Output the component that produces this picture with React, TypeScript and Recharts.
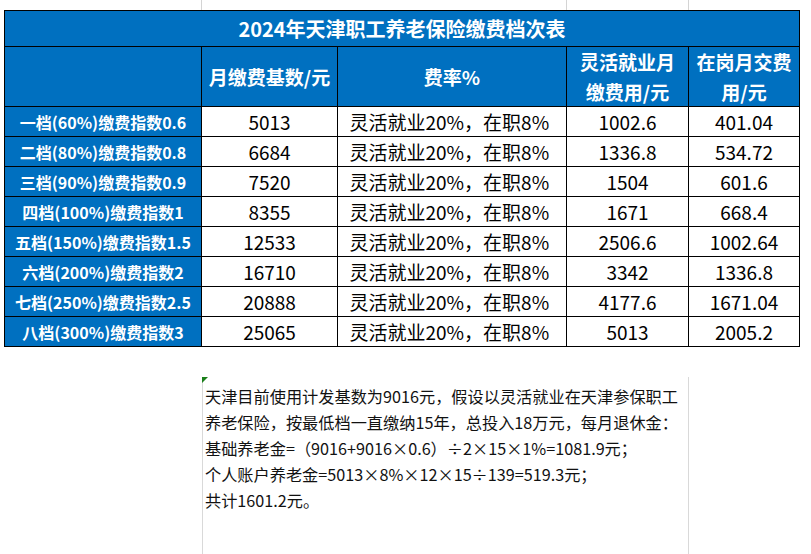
import { Bar, BarChart, XAxis, YAxis } from "recharts";

const title = "2024年天津职工养老保险缴费档次表";
const headers = [[""], ["月缴费基数/元"], ["费率%"], ["灵活就业月", "缴费用/元"], ["在岗月交费", "用/元"]];
const grades = [
  "一档(60%)缴费指数0.6", "二档(80%)缴费指数0.8", "三档(90%)缴费指数0.9", "四档(100%)缴费指数1",
  "五档(150%)缴费指数1.5", "六档(200%)缴费指数2", "七档(250%)缴费指数2.5", "八档(300%)缴费指数3",
];
const bases = [5013, 6684, 7520, 8355, 12533, 16710, 20888, 25065];
const rates = Array(8).fill("灵活就业20%，在职8%");
const flexible = [1002.6, 1336.8, 1504, 1671, 2506.6, 3342, 4177.6, 5013];
const employed = [401.04, 534.72, 601.6, 668.4, 1002.64, 1336.8, 1671.04, 2005.2];
const notes = [
  "天津目前使用计发基数为9016元，假设以灵活就业在天津参保职工",
  "养老保险，按最低档一直缴纳15年，总投入18万元，每月退休金：",
  "基础养老金=（9016+9016×0.6）÷2×15×1%=1081.9元；",
  "个人账户养老金=5013×8%×12×15÷139=519.3元；",
  "共计1601.2元。",
];

const rows = grades.map((g, i) => ({
  grade: g, base: bases[i], rate: rates[i], flexible: flexible[i], employed: employed[i],
}));

const W = 811, H = 554;
const BLUE = "#0070C0";
const FONT = "'Noto Sans CJK SC', 'Noto Sans', sans-serif";
const cols = [4.5, 201.5, 337.5, 566.5, 688.5, 799.5];
const titleTop = 10.5, headTop = 46.5, bodyTop = 106, bodyBottom = 346;
const rowH = (bodyBottom - bodyTop) / grades.length;

function RowTick(props: any) {
  const { y, index } = props;
  const r = rows[index];
  const top = Math.round(y - rowH / 2) + 0.5;
  const cy = top + rowH / 2;
  const cells = [r.grade, String(r.base), r.rate, String(r.flexible), String(r.employed)];
  return (
    <g>
      {cells.map((c, j) => {
        const x0 = cols[j], x1 = cols[j + 1];
        const left = j === 2;
        return (
          <g key={j}>
            <rect x={x0} y={top} width={x1 - x0} height={rowH} fill={j === 0 ? BLUE : "#fff"}
                  stroke="#000" strokeWidth={1} />
            <text x={left ? x0 + 12 : (x0 + x1) / 2} y={cy} textAnchor={left ? "start" : "middle"}
                  dominantBaseline="central" fontFamily={FONT}
                  fontSize={j === 0 ? 16 : 19} fontWeight={j === 0 ? 700 : 400}
                  fill={j === 0 ? "#fff" : "#000"}>
              {c}
            </text>
          </g>
        );
      })}
    </g>
  );
}

export default function App() {
  return (
    <div style={{ position: "absolute", left: 0, top: 0, width: W, height: H, background: "#fff" }}>
      <BarChart width={W} height={H} data={rows} layout="vertical"
                margin={{ top: bodyTop, bottom: H - bodyBottom, left: 4, right: W - 800 }}>
        <XAxis type="number" hide />
        <YAxis type="category" dataKey="grade" width={197} interval={0} tickLine={false}
               axisLine={false} tick={<RowTick />} />
        <Bar dataKey="base" fill="none" isAnimationActive={false} />

        {/* faint sheet gridlines above the table */}
        {[cols[1], cols[3], cols[4]].map((x) => (
          <line key={x} x1={x} x2={x} y1={0} y2={titleTop} stroke="#d4d4d4" />
        ))}

        {/* title row */}
        <rect x={cols[0]} y={titleTop} width={cols[5] - cols[0]} height={headTop - titleTop}
              fill={BLUE} stroke="#000" />
        <text x={(cols[0] + cols[5]) / 2} y={(titleTop + headTop) / 2} textAnchor="middle"
              dominantBaseline="central" fontFamily={FONT} fontSize={20} fontWeight={700} fill="#fff">
          {title}
        </text>

        {/* header row */}
        {headers.map((lines, j) => {
          const x0 = cols[j], x1 = cols[j + 1];
          const mid = (headTop + bodyTop + 0.5) / 2;
          return (
            <g key={j}>
              <rect x={x0} y={headTop} width={x1 - x0} height={bodyTop + 0.5 - headTop}
                    fill={BLUE} stroke="#000" />
              {lines.map((t, k) => (
                <text key={k} x={(x0 + x1) / 2}
                      y={lines.length === 1 ? mid : mid + (k - 0.5) * 30}
                      textAnchor="middle" dominantBaseline="central" fontFamily={FONT}
                      fontSize={19} fontWeight={700} fill="#fff">
                  {t}
                </text>
              ))}
            </g>
          );
        })}

        {/* note box below */}
        <line x1={202.5} x2={202.5} y1={377} y2={H} stroke="#d9d9d9" />
        <line x1={688.5} x2={688.5} y1={377} y2={H} stroke="#d9d9d9" />
        <polygon points="202,377 208,377 202,383" fill="#1a7f1a" />
        {notes.map((t, i) => (
          <text key={i} x={205} y={396 + i * 26} dominantBaseline="central" fontFamily={FONT}
                fontSize={16.2} fill="#111">
            {t}
          </text>
        ))}
      </BarChart>
    </div>
  );
}
